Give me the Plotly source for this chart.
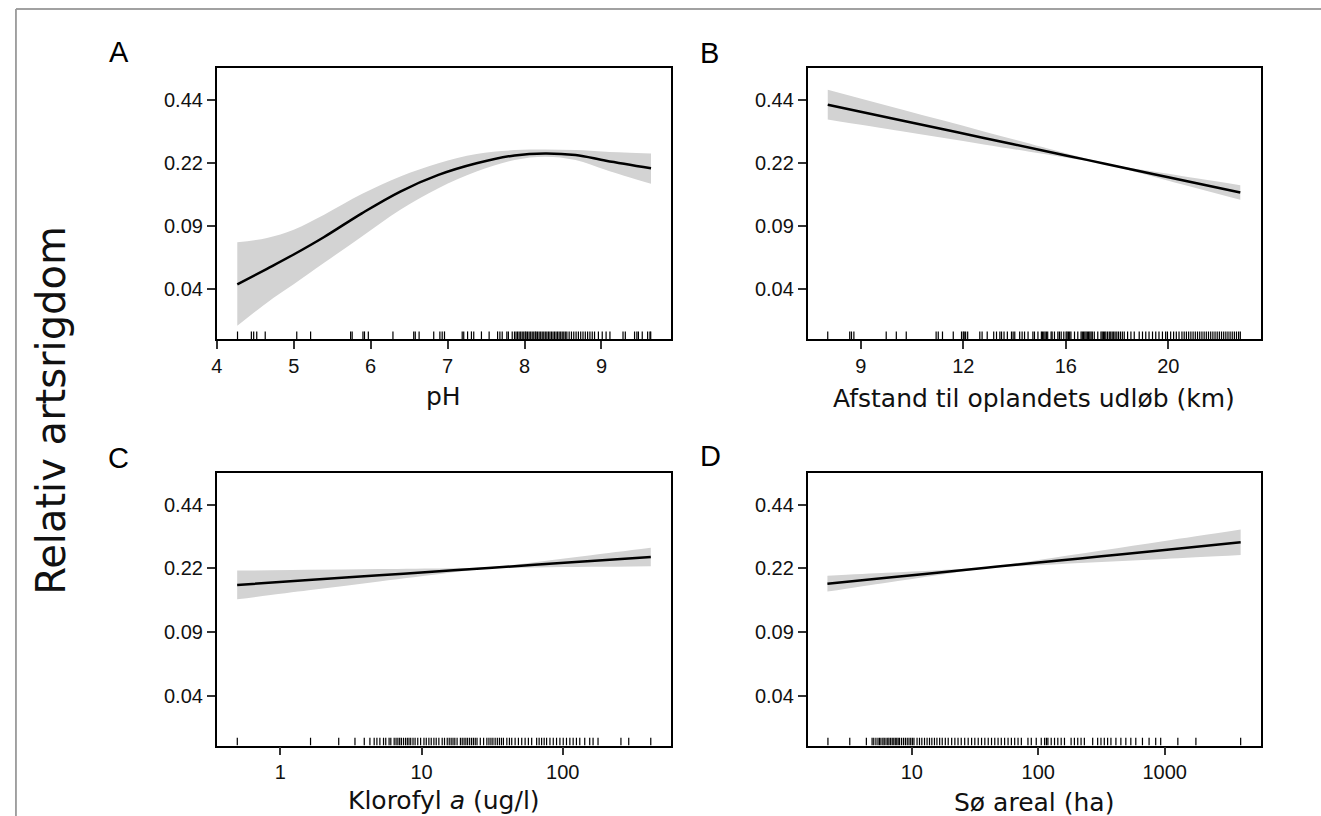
import numpy as np
import plotly.graph_objects as go

W, H = 1321, 816

# ---------------- data ----------------
Y_TICK_POS = [0, 1, 2, 3]
Y_TICK_LABELS = ["0.04", "0.09", "0.22", "0.44"]
Y_RANGE = [-0.785, 3.5]

# Panel A: pH
PH_X = [4.267, 4.653, 5.0, 5.396, 5.891, 6.386, 6.881, 7.376, 7.871, 8.267, 8.663, 9.059, 9.644]
PH_FIT = [0.079, 0.325, 0.551, 0.828, 1.206, 1.547, 1.809, 1.993, 2.118, 2.150, 2.124, 2.035, 1.915]
PH_HI = [0.744, 0.813, 0.944, 1.18, 1.51, 1.783, 1.993, 2.140, 2.202, 2.213, 2.202, 2.176, 2.150]
PH_LO = [-0.577, -0.210, 0.079, 0.42, 0.839, 1.259, 1.599, 1.862, 2.045, 2.098, 2.045, 1.888, 1.668]
PH_RUG = [4.27, 4.45, 4.48, 4.52, 4.63, 5.04, 5.22, 5.74, 5.76, 5.90, 5.92, 5.97, 6.29, 6.56, 6.58,
          6.63, 6.82, 6.90, 6.93, 6.96, 7.19, 7.21, 7.26, 7.31, 7.34, 7.44, 7.54, 7.65, 7.68, 7.71,
          7.77, 7.79, 7.84, 7.87, 7.89, 7.91, 7.93, 7.95, 7.97, 7.99, 8.01, 8.02, 8.04, 8.06, 8.08,
          8.10, 8.12, 8.14, 8.15, 8.17, 8.19, 8.21, 8.23, 8.25, 8.27, 8.29, 8.31, 8.33, 8.35, 8.37,
          8.39, 8.41, 8.43, 8.45, 8.47, 8.49, 8.51, 8.53, 8.55, 8.58, 8.61, 8.64, 8.67, 8.70, 8.73,
          8.76, 8.79, 8.82, 8.85, 8.88, 8.91, 8.96, 9.01, 9.06, 9.11, 9.28, 9.31, 9.43, 9.46, 9.48,
          9.53, 9.60, 9.63, 9.64]
PH_TICKS = [4, 5, 6, 7, 8, 9]

# Panel B: distance to outlet (km), sqrt axis
DIST_X = [8.06, 10.24, 12.96, 16.0, 17.56, 20.25, 23.53]
DIST_FIT = [2.92, 2.670, 2.394, 2.117, 1.987, 1.772, 1.530]
DIST_HI = [3.155, 2.842, 2.497, 2.151, 1.995, 1.827, 1.646]
DIST_LO = [2.685, 2.498, 2.291, 2.083, 1.979, 1.717, 1.415]
DIST_RUG = [8.06, 8.68, 8.73, 8.80, 9.76, 10.07, 10.38, 11.34, 11.41, 11.55, 11.91, 12.19, 12.25,
            12.28, 12.33, 12.40, 12.82, 12.90, 13.08, 13.31, 13.41, 13.53, 13.59, 13.68, 13.80, 13.95,
            14.01, 14.07, 14.25, 14.34, 14.43, 14.56, 14.74, 14.80, 14.93, 15.06, 15.10, 15.15, 15.20,
            15.25, 15.30, 15.43, 15.47, 15.56, 15.69, 15.75, 15.82, 15.92, 16.01, 16.05, 16.10, 16.15,
            16.20, 16.34, 16.47, 16.60, 16.65, 16.70, 16.75, 16.80, 16.85, 16.90, 16.95, 17.00, 17.05,
            17.13, 17.27, 17.40, 17.45, 17.50, 17.55, 17.60, 17.67, 17.74, 17.80, 17.86, 17.92, 17.98,
            18.05, 18.12, 18.20, 18.28, 18.36, 18.50, 18.64, 18.78, 18.99, 19.13, 19.27, 19.41, 19.56,
            19.70, 19.84, 19.99, 20.13, 20.21, 20.35, 20.48, 20.60, 20.72, 20.85, 20.95, 21.05, 21.15,
            21.25, 21.35, 21.45, 21.55, 21.65, 21.75, 21.85, 21.95, 22.05, 22.15, 22.25, 22.35, 22.45,
            22.55, 22.65, 22.75, 22.85, 22.95, 23.05, 23.15, 23.25, 23.35, 23.45, 23.53]
DIST_TICK_VALUES = [9, 12.25, 16, 20.25]
DIST_TICK_LABELS = ["9", "12", "16", "20"]

# Panel C: chlorophyll a (ug/l), log axis
CHL_X = [0.495, 1.585, 5.01, 15.85, 29.8, 63.1, 158.5, 419.8]
CHL_FIT = [1.74, 1.816, 1.891, 1.966, 2.007, 2.056, 2.116, 2.18]
CHL_LO = [1.515, 1.655, 1.793, 1.930, 1.997, 2.014, 2.024, 2.035]
CHL_HI = [1.965, 1.977, 1.989, 2.002, 2.017, 2.098, 2.208, 2.325]
CHL_RUG = [0.496, 1.637, 2.592, 3.378, 3.93, 4.31, 4.62, 4.83, 5.07, 5.38, 5.58, 5.89, 6.06, 6.4, 6.6,
           6.8, 7.0, 7.2, 7.45, 7.7, 7.93, 8.15, 8.38, 8.7, 9.0, 9.4, 9.85, 10.4, 10.8, 11.27, 11.71,
           12.23, 12.7, 13.26, 14.0, 14.54, 15.2, 15.7, 16.2, 16.7, 17.2, 17.85, 18.84, 19.4, 20.0,
           20.6, 21.2, 21.9, 22.6, 23.3, 24.0, 24.7, 26.06, 27.5, 29.0, 30.0, 31.0, 32.0, 33.2, 34.4,
           35.6, 36.8, 38.0, 40.16, 41.9, 43.5, 45.96, 48.5, 51.2, 54.1, 57.06, 60.2, 65.3, 68.0, 70.8,
           73.8, 76.8, 81.1, 85.6, 90.3, 95.4, 100.7, 106.2, 112.2, 118.4, 124.9, 131.9, 143.0, 155.1,
           163.8, 177.6, 258, 293, 419.6]
CHL_TICKS = [1, 10, 100]

# Panel D: lake area (ha), log axis
AREA_X = [2.15, 6.31, 15.85, 38.7, 100, 316.2, 1000, 3990]
AREA_FIT = [1.76, 1.853, 1.932, 2.010, 2.091, 2.191, 2.290, 2.41]
AREA_LO = [1.635, 1.774, 1.892, 2.002, 2.049, 2.100, 2.149, 2.210]
AREA_HI = [1.885, 1.932, 1.972, 2.018, 2.133, 2.282, 2.431, 2.611]
AREA_RUG = [2.17, 3.23, 4.37, 4.85, 5.0, 5.2, 5.4, 5.55, 5.7, 5.9, 6.05, 6.25, 6.45, 6.6, 6.8, 7.0,
            7.2, 7.4, 7.6, 7.8, 8.0, 8.3, 8.6, 8.9, 9.2, 9.5, 9.8, 10.1, 10.4, 11.0, 11.5, 12.0, 12.6,
            13.2, 13.8, 14.4, 15.1, 15.8, 16.6, 17.4, 18.4, 19.4, 20.66, 21.9, 23.2, 24.6, 26.2, 27.9,
            29.7, 31.5, 33.5, 35.6, 37.8, 40.2, 42.7, 45.3, 48.1, 51.0, 54.2, 57.7, 61.3, 65.1, 69.2,
            73.5, 82.9, 88.1, 96.4, 105.6, 112.2, 116.0, 119.2, 126.6, 134.5, 142.8, 151.8, 161.2,
            181.9, 193.2, 205.3, 218.1, 231.6, 269.5, 295.0, 313.4, 333.0, 353.7, 375.7, 411.4, 450.3,
            493.0, 539.9, 591.0, 667.2, 752.6, 849.3, 930.0, 1271, 1766, 3990]
AREA_TICKS = [10, 100, 1000]

PANEL_LETTERS = ["A", "B", "C", "D"]
X_TITLES = ["pH", "Afstand til oplandets udløb (km)", "Klorofyl <i>a</i> (ug/l)", "Sø areal (ha)"]
Y_TITLE = "Relativ artsrigdom"

# ---------------- style ----------------
BAND = "#D3D3D3"
TICK_FONT = dict(family="Liberation Sans, Arial, sans-serif", size=20, color="#111")
TITLE_FONT = dict(family="DejaVu Sans, Verdana, sans-serif", size=25, color="#111")
RUG_LEN = 0.12


def px(x):
    return x / W


def py(y):
    return 1 - y / H


X_DOMAINS = [[px(211.7), px(667.6)], [px(805.3), px(1261)]]
Y_DOMAINS = [[py(339), py(68)], [py(745.5), py(473)]]

fig = go.Figure()


def add_panel(i, xs, fit, lo, hi, rug, xf=lambda v: v):
    xa = "x" if i == 0 else f"x{i+1}"
    ya = "y" if i == 0 else f"y{i+1}"
    xx = [xf(v) for v in xs]
    fig.add_trace(go.Scatter(x=xx, y=lo, mode="lines", line=dict(width=0, shape="spline"),
                             xaxis=xa, yaxis=ya, showlegend=False, hoverinfo="skip"))
    fig.add_trace(go.Scatter(x=xx, y=hi, mode="lines", line=dict(width=0, shape="spline"),
                             fill="tonexty", fillcolor=BAND,
                             xaxis=xa, yaxis=ya, showlegend=False, hoverinfo="skip"))
    fig.add_trace(go.Scatter(x=xx, y=fit, mode="lines", line=dict(color="black", width=2.5, shape="spline"),
                             xaxis=xa, yaxis=ya, showlegend=False))
    rx, ry = [], []
    for v in rug:
        rx += [xf(v), xf(v), None]
        ry += [Y_RANGE[0], Y_RANGE[0] + RUG_LEN, None]
    fig.add_trace(go.Scatter(x=rx, y=ry, mode="lines", line=dict(color="black", width=1.2),
                             xaxis=xa, yaxis=ya, showlegend=False, hoverinfo="skip"))


add_panel(0, PH_X, PH_FIT, PH_LO, PH_HI, PH_RUG)
add_panel(1, DIST_X, DIST_FIT, DIST_LO, DIST_HI, DIST_RUG, xf=lambda v: float(np.sqrt(v)))
add_panel(2, CHL_X, CHL_FIT, CHL_LO, CHL_HI, CHL_RUG)
add_panel(3, AREA_X, AREA_FIT, AREA_LO, AREA_HI, AREA_RUG)

common_axis = dict(showline=True, linecolor="black", linewidth=1.6, mirror=True,
                   ticks="outside", ticklen=8, tickwidth=1.5, tickcolor="#333",
                   tickfont=TICK_FONT, showgrid=False, zeroline=False)

layout = dict(width=W, height=H, margin=dict(l=0, r=0, t=0, b=0),
              paper_bgcolor="white", plot_bgcolor="white", showlegend=False)

x_cfg = [
    dict(range=[4.0, 9.898], tickvals=PH_TICKS, ticktext=[str(t) for t in PH_TICKS]),
    dict(range=[2.741, 4.953], tickvals=[float(np.sqrt(v)) for v in DIST_TICK_VALUES], ticktext=DIST_TICK_LABELS),
    dict(type="log", range=[-0.45, 2.763], tickvals=CHL_TICKS, ticktext=[str(t) for t in CHL_TICKS]),
    dict(type="log", range=[0.176, 3.764], tickvals=AREA_TICKS, ticktext=[str(t) for t in AREA_TICKS]),
]

for i in range(4):
    col, row = i % 2, i // 2
    xk = "xaxis" if i == 0 else f"xaxis{i+1}"
    yk = "yaxis" if i == 0 else f"yaxis{i+1}"
    ya = "y" if i == 0 else f"y{i+1}"
    xa = "x" if i == 0 else f"x{i+1}"
    layout[xk] = dict(common_axis, domain=X_DOMAINS[col], anchor=ya, **x_cfg[i])
    layout[yk] = dict(common_axis, domain=Y_DOMAINS[row], anchor=xa, range=Y_RANGE,
                      tickvals=Y_TICK_POS, ticktext=Y_TICK_LABELS)

fig.update_layout(**layout)

# panel letters
letter_pos = [(113.5, 52), (707, 53), (113.5, 458), (708, 456)]
for (lx, ly), letter in zip(letter_pos, PANEL_LETTERS):
    fig.add_annotation(x=px(lx), y=py(ly), xref="paper", yref="paper", text=letter, showarrow=False,
                       xanchor="center", yanchor="middle",
                       font=dict(family="Liberation Sans, Arial, sans-serif", size=29, color="black"))

# x titles
title_pos = [(439.7, 396), (1033, 398), (439.8, 800), (1033, 802)]
for (tx, ty), t in zip(title_pos, X_TITLES):
    fig.add_annotation(x=px(tx), y=py(ty), xref="paper", yref="paper", text=t, showarrow=False,
                       xanchor="center", yanchor="middle", font=TITLE_FONT)

# y title
fig.add_annotation(x=px(45), y=py(410), xref="paper", yref="paper", text=Y_TITLE, showarrow=False,
                   textangle=-90, xanchor="center", yanchor="middle",
                   font=dict(family="DejaVu Sans, Verdana, sans-serif", size=40, color="#111"))

# outer frame lines
fig.add_shape(type="line", xref="paper", yref="paper", x0=px(10), x1=1, y0=py(9), y1=py(9),
              line=dict(color="#444", width=1.2))
fig.add_shape(type="line", xref="paper", yref="paper", x0=px(10), x1=px(10), y0=0, y1=py(9),
              line=dict(color="#999", width=1.8))

fig.write_html("out.html", config={"displayModeBar": False},
               post_script="document.body.style.margin='0';document.body.style.overflow='hidden';")
